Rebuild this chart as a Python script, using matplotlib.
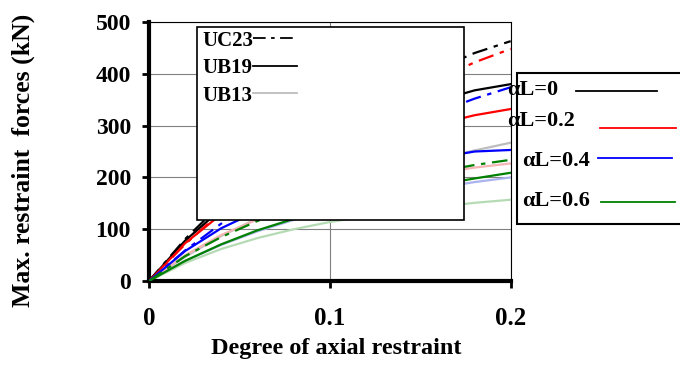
import matplotlib
matplotlib.use("Agg")
import matplotlib.pyplot as plt
from matplotlib.patches import Rectangle
from matplotlib.lines import Line2D

plt.rcParams['font.family'] = ['Liberation Serif', 'DejaVu Serif']
plt.rcParams['font.weight'] = 'bold'

# degree of axial restraint
x = [0, 0.02, 0.04, 0.06, 0.08, 0.10, 0.12, 0.14, 0.16, 0.18, 0.20]

# UC23 (dash-dot)
uc23_0 = [0, 81, 149, 207, 258, 302, 342, 378, 410, 440, 463]
uc23_02 = [0, 71, 134, 189, 238, 282, 322, 358, 390, 422, 448]
uc23_04 = [0, 59, 111, 157, 198, 235, 268, 298, 326, 352, 374]
uc23_06 = [0, 48, 85, 116, 142, 163, 181, 197, 211, 224, 234]
# UB19 (solid)
ub19_0 = [0, 78, 139, 189, 230, 265, 295, 322, 348, 368, 380]
ub19_02 = [0, 73, 129, 173, 208, 238, 262, 284, 303, 320, 332]
ub19_04 = [0, 58, 102, 135, 162, 184, 203, 220, 238, 250, 253]
ub19_06 = [0, 39, 71, 98, 120, 140, 157, 172, 186, 198, 209]
# UB13 (pale)
ub13_0 = [0, 47, 87, 121, 150, 176, 198, 218, 236, 252, 267]
ub13_02 = [0, 50, 89, 119, 143, 163, 180, 195, 208, 219, 227]
ub13_04 = [0, 39, 70, 96, 118, 137, 153, 167, 180, 191, 200]
ub13_06 = [0, 35, 62, 83, 100, 114, 125, 135, 143, 151, 157]

alpha_labels = ['\u03b1L=0', '\u03b1L=0.2', '\u03b1L=0.4', '\u03b1L=0.6']
section_labels = ['UC23', 'UB19', 'UB13']

dark = ['black', 'red', 'blue', 'green']
pale = ['#bdbdbd', '#f5b5b5', '#aab3ee', '#b5dbb5']
dashdot = (0, (7, 3, 2, 3))

fig = plt.figure(figsize=(6.8, 3.66), dpi=100)
ax = fig.add_axes([0.219, 0.232, 0.532, 0.708])

for ys, c in zip([ub13_0, ub13_02, ub13_04, ub13_06], pale):
    ax.plot(x, ys, color=c, lw=1.6, zorder=2)
for ys, c in zip([ub19_0, ub19_02, ub19_04, ub19_06], dark):
    ax.plot(x, ys, color=c, lw=1.6, zorder=3)
for ys, c in zip([uc23_0, uc23_02, uc23_04, uc23_06], dark):
    ax.plot(x, ys, color=c, lw=1.6, ls=dashdot, zorder=3)

ax.set_xlim(0, 0.2)
ax.set_ylim(0, 500)
ax.set_xticks([0, 0.1, 0.2])
ax.set_xticklabels(['0', '0.1', '0.2'])
ax.set_yticks([0, 100, 200, 300, 400, 500])
ax.grid(True, color='#808080', lw=0.8)
ax.set_axisbelow(True)
ax.tick_params(width=2, length=5, direction='out')
ax.tick_params(axis='x', pad=14, labelsize=18)
ax.tick_params(axis='y', pad=8, labelsize=17)
for s in ['left', 'bottom']:
    ax.spines[s].set_linewidth(3)
for s in ['top', 'right']:
    ax.spines[s].set_linewidth(0.8)

ax.text(0.518, -0.26, 'Degree of axial restraint', transform=ax.transAxes,
        fontsize=17.5, fontweight='bold', ha='center', va='center')
ax.text(-0.348, 0.465, 'Max. restraint  forces (kN)', transform=ax.transAxes,
        fontsize=18.5, fontweight='bold', ha='center', va='center', rotation=90)

# section legend box (inside axes)
ax.add_patch(Rectangle((0.133, 0.235), 0.737, 0.745, transform=ax.transAxes,
                       facecolor='white', edgecolor='black', lw=1.2, zorder=5))
sec_styles = [('black', dashdot), ('black', '-'), ('#bdbdbd', '-')]
for i, (lab, (c, st)) in enumerate(zip(section_labels, sec_styles)):
    yy = 0.927 - i * 0.106
    ax.text(0.149, yy, lab, transform=ax.transAxes, fontsize=15, fontweight='bold',
            va='center', ha='left', zorder=6)
    ax.add_line(Line2D([0.288, 0.41], [yy + 0.01, yy + 0.01], transform=ax.transAxes,
                       color=c, ls=st, lw=1.3, zorder=6))

# alpha legend box (right of axes)
fig.patches.append(Rectangle((517 / 680, 1 - 224 / 366), 0.3, 151 / 366,
                             transform=fig.transFigure, facecolor='white',
                             edgecolor='black', lw=1.5, zorder=1))
txt_pos = [(507, 90), (507, 121), (522, 161), (522, 201)]
line_pos = [(576, 657, 91), (600, 676, 128), (598, 672, 158), (601, 675, 202)]
for lab, c, (tx, ty), (x0, x1, ly) in zip(alpha_labels, dark, txt_pos, line_pos):
    fig.text(tx / 680, 1 - ty / 366, lab, fontsize=16, fontweight='bold',
             va='center', ha='left', zorder=3)
    fig.lines.append(Line2D([x0 / 680, x1 / 680], [1 - ly / 366, 1 - ly / 366],
                            transform=fig.transFigure, color=c, lw=1.3, zorder=3))

fig.savefig('out.png', dpi=100)
